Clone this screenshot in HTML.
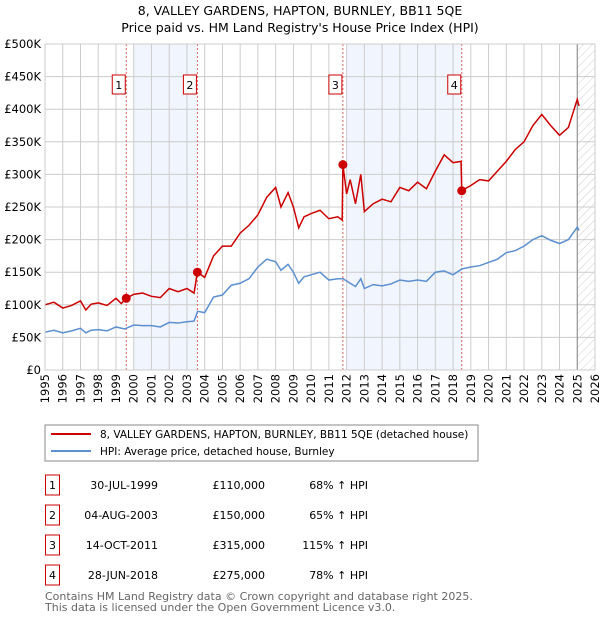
<!DOCTYPE html>
<html><head><meta charset="utf-8"><style>
body{margin:0;background:#fff;width:600px;height:620px;overflow:hidden;font-family:"DejaVu Sans","Liberation Sans",sans-serif;}
svg text{font-family:"DejaVu Sans","Liberation Sans",sans-serif;}
</style></head><body>
<svg id="chart" width="600" height="620" xmlns="http://www.w3.org/2000/svg">
<defs><pattern id="hatch" patternUnits="userSpaceOnUse" width="6" height="6" patternTransform="rotate(45)"><line x1="0" y1="0" x2="0" y2="6" stroke="#ccc" stroke-width="1"/></pattern></defs>
<text x="300" y="15" text-anchor="middle" font-size="12.5">8, VALLEY GARDENS, HAPTON, BURNLEY, BB11 5QE</text>
<text x="300" y="32" text-anchor="middle" font-size="12.5">Price paid vs. HM Land Registry's House Price Index (HPI)</text>
<g id="plot"></g>
<g>
<rect x="45" y="425" width="433" height="36" fill="#fff" stroke="#888"/>
<line x1="51" y1="434" x2="91" y2="434" stroke="#cc0000" stroke-width="2"/>
<text x="100" y="438" font-size="10.5">8, VALLEY GARDENS, HAPTON, BURNLEY, BB11 5QE (detached house)</text>
<line x1="51" y1="451" x2="91" y2="451" stroke="#5b8fd0" stroke-width="2"/>
<text x="100" y="455" font-size="10.5">HPI: Average price, detached house, Burnley</text>
</g>
<g id="table"></g>
<text x="45" y="600" font-size="11" fill="#666">Contains HM Land Registry data © Crown copyright and database right 2025.</text>
<text x="45" y="611" font-size="11" fill="#666">This data is licensed under the Open Government Licence v3.0.</text>
</svg>
<script>
const hpiYears=[1995,1995.5,1996,1996.5,1997,1997.3,1997.6,1998,1998.5,1999,1999.5,2000,2000.5,2001,2001.5,2002,2002.5,2003,2003.4,2003.6,2004,2004.5,2005,2005.5,2006,2006.5,2007,2007.5,2008,2008.3,2008.7,2009,2009.3,2009.6,2010,2010.5,2011,2011.5,2011.8,2012.2,2012.5,2012.8,2013,2013.5,2014,2014.5,2015,2015.5,2016,2016.5,2017,2017.5,2018,2018.5,2019,2019.5,2020,2020.5,2021,2021.5,2022,2022.5,2023,2023.5,2024,2024.5,2025,2025.1];
const hpiValues=[58,61,57,60,64,57,61,62,60,66,63,69,68,68,66,73,72,74,75,90,88,112,115,130,133,140,158,170,166,153,162,150,133,143,146,150,138,140,140,133,128,140,125,131,129,132,138,136,138,136,150,152,146,155,158,160,165,170,180,183,190,200,206,199,194,200,219,214];
const redYears=[1995,1995.5,1996,1996.5,1997,1997.3,1997.6,1998,1998.5,1999,1999.3,1999.58,2000,2000.5,2001,2001.5,2002,2002.5,2003,2003.4,2003.59,2004,2004.5,2005,2005.5,2006,2006.5,2007,2007.5,2008,2008.3,2008.7,2009,2009.3,2009.6,2010,2010.5,2011,2011.5,2011.75,2011.79,2012,2012.2,2012.5,2012.8,2013,2013.5,2014,2014.5,2015,2015.5,2016,2016.5,2017,2017.5,2018,2018.45,2018.49,2019,2019.5,2020,2020.5,2021,2021.5,2022,2022.5,2023,2023.5,2024,2024.5,2025,2025.1];
const redValues=[100,104,95,99,106,92,101,103,99,110,102,110,116,118,113,111,125,120,125,118,150,142,175,190,190,210,222,238,265,280,250,272,250,218,235,240,245,232,235,230,315,270,292,255,300,243,255,262,258,280,275,288,278,305,330,318,320,275,283,292,290,305,320,338,350,375,392,375,360,372,415,405];
const sales=[{n:"1",t:1999.58,v:110,d:"30-JUL-1999",p:"£110,000",h:"68% ↑ HPI"},{n:"2",t:2003.59,v:150,d:"04-AUG-2003",p:"£150,000",h:"65% ↑ HPI"},{n:"3",t:2011.79,v:315,d:"14-OCT-2011",p:"£315,000",h:"115% ↑ HPI"},{n:"4",t:2018.49,v:275,d:"28-JUN-2018",p:"£275,000",h:"78% ↑ HPI"}];
const yTicks=[0,50,100,150,200,250,300,350,400,450,500];
const yTickLabels=["£0","£50K","£100K","£150K","£200K","£250K","£300K","£350K","£400K","£450K","£500K"];
const xTicks=[1995,1996,1997,1998,1999,2000,2001,2002,2003,2004,2005,2006,2007,2008,2009,2010,2011,2012,2013,2014,2015,2016,2017,2018,2019,2020,2021,2022,2023,2024,2025,2026];
const NS="http://www.w3.org/2000/svg";
const X0=45,X1=595,Y0=370,Y1=44;
const x=t=>X0+(t-1995)/(2026-1995)*(X1-X0);
const y=v=>Y0-v/500*(Y0-Y1);
const plot=document.getElementById('plot');
function mk(tag,at,parent){const e=document.createElementNS(NS,tag);for(const k in at)e.setAttribute(k,at[k]);(parent||plot).appendChild(e);return e;}
let e;
e=mk('rect',{x:x(2000),y:Y1,width:x(2003.59)-x(2000),height:Y0-Y1,fill:'#f1f5fd'});


e=mk('rect',{x:x(2012),y:Y1,width:x(2018.49)-x(2012),height:Y0-Y1,fill:'#f1f5fd'});


e=mk('rect',{x:x(2025),y:Y1,width:X1-x(2025),height:Y0-Y1,fill:'url(#hatch)'});


xTicks.forEach(t=>{
 e=mk('line',{x1:x(t),x2:x(t),y1:Y1,y2:Y0,stroke:'#ccc','stroke-width':1});
 
 
 e=mk('text',{x:0,y:0,'font-size':11.5,'text-anchor':'end',transform:`translate(${x(t)+4},${Y0+4}) rotate(-90)`});
 e.textContent=t;
 
 
});
yTicks.forEach((v,i)=>{
 e=mk('line',{x1:X0,x2:X1,y1:y(v),y2:y(v),stroke:'#ccc','stroke-width':1});
 
 
 e=mk('text',{x:X0-4,y:y(v)+4,'font-size':11.5,'text-anchor':'end'});
 e.textContent=yTickLabels[i];
 
 
});
e=mk('line',{x1:x(2025),x2:x(2025),y1:Y1,y2:Y0,stroke:'#888','stroke-width':1});


sales.forEach(s=>{
 e=mk('line',{x1:x(s.t),x2:x(s.t),y1:Y1,y2:Y0,stroke:'#e06060','stroke-width':1,'stroke-dasharray':'2,2'});
 
 
});
e=mk('polyline',{points:hpiYears.map((t,i)=>x(t)+','+y(hpiValues[i])).join(' '),fill:'none',stroke:'#5b8fd0','stroke-width':1.5});


e=mk('polyline',{points:redYears.map((t,i)=>x(t)+','+y(redValues[i])).join(' '),fill:'none',stroke:'#cc0000','stroke-width':1.5});


sales.forEach(s=>{
 e=mk('circle',{cx:x(s.t),cy:y(s.v),r:4.5,fill:'#cc0000'});
 
 
 const g=mk('g',{});
 
 
 mk('rect',{x:x(s.t)-14,y:75,width:13,height:19,fill:'#fff',stroke:'#cc0000'},g);
 const tt=mk('text',{x:x(s.t)-7.5,y:89,'font-size':11,'text-anchor':'middle'},g);
 tt.textContent=s.n;
});
e=mk('rect',{x:X0,y:Y1,width:X1-X0,height:Y0-Y1,fill:'none',stroke:'#ccc'});


const tb=document.getElementById('table');
sales.forEach((s,i)=>{
 const yy=475+i*30;
 const g=mk('g',{},tb);
 
 
 mk('rect',{x:45.5,y:yy,width:14,height:20,fill:'#fff',stroke:'#cc0000'},g);
 let t=mk('text',{x:52.5,y:yy+14,'font-size':11,'text-anchor':'middle'},g);t.textContent=s.n;
 t=mk('text',{x:158,y:yy+14,'font-size':11,'text-anchor':'end'},g);t.textContent=s.d;
 t=mk('text',{x:265,y:yy+14,'font-size':11,'text-anchor':'end'},g);t.textContent=s.p;
 t=mk('text',{x:368,y:yy+14,'font-size':11,'text-anchor':'end'},g);t.textContent=s.h;
});
</script>
</body></html>
